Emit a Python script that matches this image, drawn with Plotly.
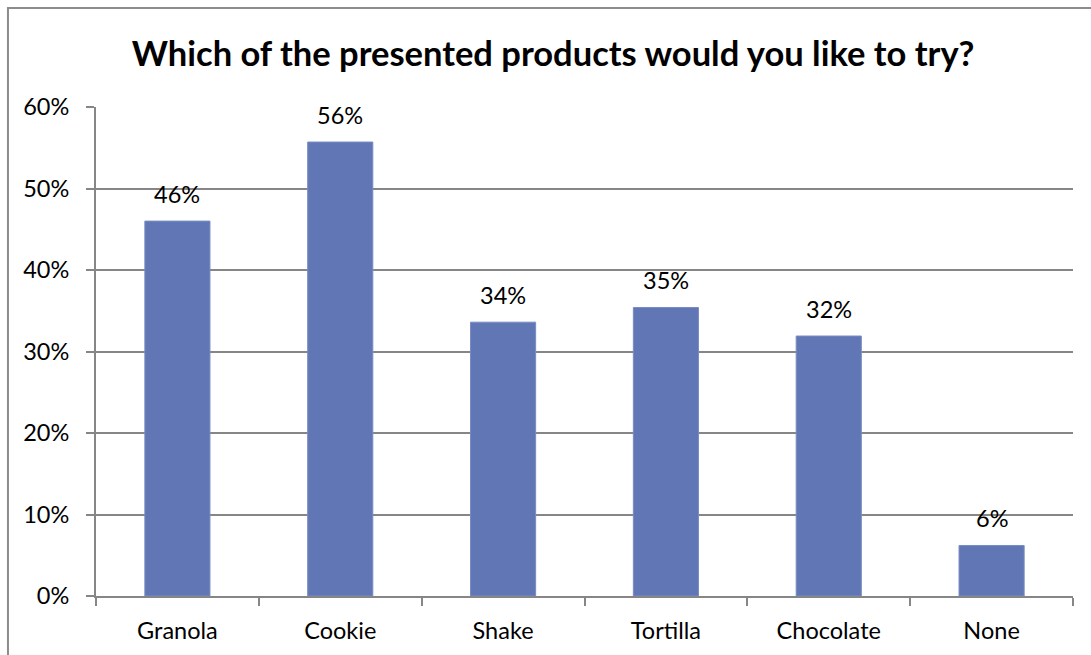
import plotly.graph_objects as go

# Survey results: share of respondents interested in each product
products = ["Granola", "Cookie", "Shake", "Tortilla", "Chocolate", "None"]
shares = [0.46, 0.557, 0.336, 0.354, 0.319, 0.062]
y_ticks = [0, 0.1, 0.2, 0.3, 0.4, 0.5, 0.6]
y_tick_labels = ["0%", "10%", "20%", "30%", "40%", "50%", "60%"]

BAR_COLOR = "#6177B5"
GRID_COLOR = "#868686"
FONT = "Lato, Open Sans, sans-serif"
LABEL_SIZE = 23.5

fig = go.Figure(
    go.Bar(
        x=products,
        y=shares,
        marker=dict(color=BAR_COLOR, line=dict(color="#7A8CC2", width=1)),
        hoverinfo="skip",
    )
)

# value labels above each bar
for name, val in zip(products, shares):
    fig.add_annotation(
        x=name, y=val, text=f"{val:.0%}", showarrow=False,
        yanchor="bottom", yshift=11,
        font=dict(family=FONT, size=LABEL_SIZE, color="#000000"),
    )

# chart frame
fig.add_shape(
    type="rect", xref="paper", yref="paper",
    x0=-0.0901, x1=1.2, y0=-0.3, y1=1.2025,
    line=dict(color="#8C8C8C", width=2), layer="below",
)

fig.update_layout(
    width=1091, height=655,
    margin=dict(l=96, r=18, t=107, b=59),
    paper_bgcolor="white", plot_bgcolor="white",
    bargap=0.6,
    showlegend=False,
    title=dict(
        text="<b>Which of the presented products would you like to try?</b>",
        x=0.507, xanchor="center", y=0.917, yanchor="middle",
        font=dict(family=FONT, size=34.5, color="#000000"),
    ),
    font=dict(family=FONT, size=LABEL_SIZE, color="#000000"),
)

fig.update_xaxes(
    type="category",
    showline=True, linecolor=GRID_COLOR, linewidth=2,
    ticks="outside", tickson="boundaries", ticklen=8, tickwidth=2, tickcolor=GRID_COLOR,
    ticklabelstandoff=13,
    showgrid=False,
    tickfont=dict(family=FONT, size=LABEL_SIZE, color="#000000"),
)

fig.update_yaxes(
    range=[0, 0.6],
    tickvals=y_ticks, ticktext=y_tick_labels,
    showline=True, linecolor=GRID_COLOR, linewidth=2,
    ticks="outside", ticklen=8, tickwidth=2, tickcolor=GRID_COLOR,
    ticklabelstandoff=12,
    showgrid=True, gridcolor=GRID_COLOR, gridwidth=2,
    zeroline=False,
    tickfont=dict(family=FONT, size=LABEL_SIZE, color="#000000"),
)

fig.write_html("out.html")
